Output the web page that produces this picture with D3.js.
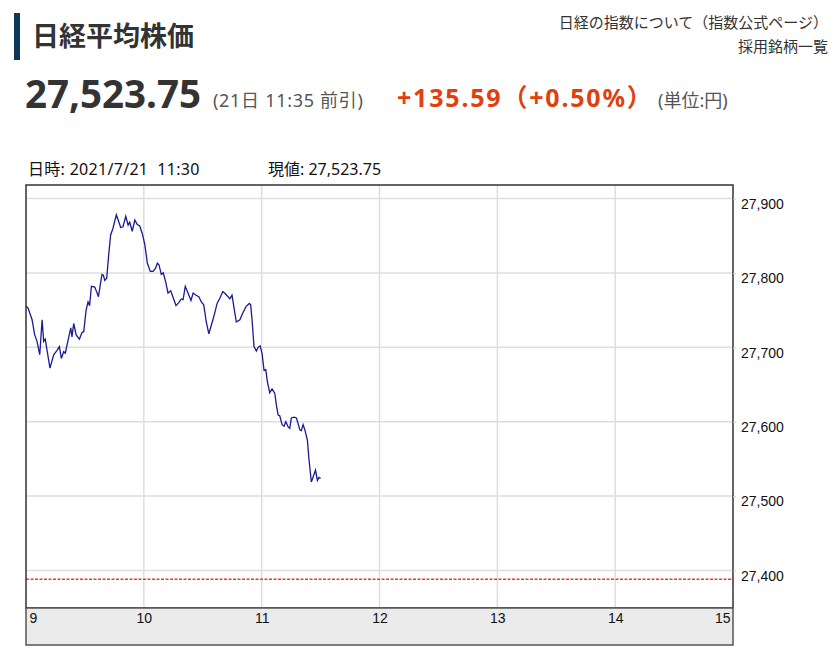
<!DOCTYPE html>
<html>
<head>
<meta charset="utf-8">
<script src="https://cdn.jsdelivr.net/npm/d3@7"></script>
<style>
  html, body { margin: 0; padding: 0; background: #fff; }
  svg { display: block; }
</style>
</head>
<body>
<svg id="chart" width="833" height="658"></svg>
<script>
// ---- data (minutes after 9:00, index value) ----
const minutes = [0,1,3.1,4.4,5.6,7,8.2,9,9.8,12.2,14.1,15.8,17,18,19.2,20,21.8,22.8,23.4,24.3,25.5,27.2,28.5,29.4,30.6,31.6,32.4,33.3,35,36.2,36.9,37.8,38.7,39.4,40.1,41.1,42.1,43.1,44.3,46,47.2,48.2,49.4,50.8,52,52.8,54.1,55.4,56.7,57.9,59.2,60.5,61.8,63.3,64.7,65.9,66.9,67.7,68.9,69.9,71.2,72.3,73.7,75.6,76.4,77.8,79.1,80,81.1,82.5,84,85.1,86.6,88,89.3,90.5,91.8,93.1,94.4,96.1,97.3,98.7,100.2,101.5,102.9,103.8,104.9,106.1,107.1,108.9,110.4,112.1,113.7,114.4,115.1,116.1,117.3,118.2,119.2,120.2,121.2,122.1,122.9,124.1,125.3,126.7,127.5,128.4,129.2,130.4,131.4,132.3,133.5,134.3,135.1,136.5,137.7,138.5,139.4,140.2,141.1,142,143.3,144.1,145.3,146.5,147.4,148.4,149.2,150];
const values = [27755,27753,27737,27717,27708,27690,27737,27708,27711,27672,27690,27696,27701,27685,27694,27692,27714,27726,27714,27732,27717,27711,27720,27721,27750,27761,27756,27782,27781,27773,27768,27784,27798,27797,27790,27793,27824,27851,27860,27878,27869,27861,27862,27876,27864,27868,27856,27871,27865,27863,27853,27838,27813,27802,27802,27806,27813,27811,27798,27800,27787,27773,27776,27762,27756,27760,27765,27764,27782,27773,27763,27773,27770,27768,27761,27757,27734,27718,27730,27746,27759,27766,27775,27772,27768,27765,27770,27750,27734,27737,27746,27755,27759,27757,27737,27701,27695,27700,27702,27692,27669,27670,27654,27639,27644,27638,27622,27609,27608,27596,27594,27600,27593,27591,27605,27606,27605,27598,27589,27588,27596,27589,27575,27549,27519,27528,27535,27521,27525,27523.75];
const prevClose = 27388.16;
const yTicks = [27400, 27500, 27600, 27700, 27800, 27900];
const xTicks = [9, 10, 11, 12, 13, 14, 15];

const svg = d3.select("#chart");
const JP = "'Noto Sans CJK JP', sans-serif";
const NS = "'Noto Sans', 'Noto Sans CJK JP', sans-serif";

// ---- header ----
svg.append("rect").attr("x", 14).attr("y", 13).attr("width", 6).attr("height", 47).attr("fill", "#0f3858");
svg.append("text").attr("x", 32).attr("y", 46).attr("font-family", JP).attr("font-weight", 700)
  .attr("font-size", 27).attr("fill", "#333").text("日経平均株価");

svg.append("text").attr("x", 828).attr("y", 28).attr("text-anchor", "end").attr("font-family", JP)
  .attr("font-size", 15).attr("fill", "#333").text("日経の指数について（指数公式ページ）");
svg.append("text").attr("x", 828).attr("y", 52).attr("text-anchor", "end").attr("font-family", JP)
  .attr("font-size", 15).attr("fill", "#333").text("採用銘柄一覧");

svg.append("text").attr("x", 25).attr("y", 108).attr("font-family", NS).attr("font-weight", 700)
  .attr("font-size", 38.5).attr("fill", "#333").text("27,523.75");
svg.append("text").attr("x", 213).attr("y", 107).attr("font-family", NS)
  .attr("font-size", 18).attr("letter-spacing", 0.7).attr("fill", "#555").text("(21日 11:35 前引)");
svg.append("text").attr("x", 397).attr("y", 107).attr("font-family", NS).attr("font-weight", 700)
  .attr("font-size", 25).attr("letter-spacing", 1.8).attr("fill", "#e0400e").text("+135.59（+0.50%）");
svg.append("text").attr("x", 658).attr("y", 107).attr("font-family", NS)
  .attr("font-size", 18).attr("fill", "#555").text("(単位:円)");

svg.append("text").attr("x", 28).attr("y", 175).attr("font-family", NS)
  .attr("font-size", 16).attr("letter-spacing", 0.3).attr("fill", "#111").attr("xml:space", "preserve").text("日時: 2021/7/21  11:30");
svg.append("text").attr("x", 268).attr("y", 175).attr("font-family", NS)
  .attr("font-size", 16).attr("fill", "#111").text("現値: 27,523.75");

// ---- chart ----
const L = 26, R = 733, T = 185, B = 608, AX = 645;
const x = d3.scaleLinear().domain([9, 15]).range([L, R]);
const y = d3.scaleLinear().domain([27400, 27900]).range([570.5, 198.5]);

const g = svg.append("g");
// grid
g.selectAll(".hg").data(yTicks).join("line")
  .attr("x1", L).attr("x2", R).attr("y1", d => y(d)).attr("y2", d => y(d))
  .attr("stroke", "#dedede").attr("stroke-width", 1.5);
g.selectAll(".vg").data(xTicks.slice(1, -1)).join("line")
  .attr("x1", d => x(d)).attr("x2", d => x(d)).attr("y1", T).attr("y2", B)
  .attr("stroke", "#dedede").attr("stroke-width", 1.5);

// previous close
g.append("line").attr("x1", L).attr("x2", R).attr("y1", y(prevClose)).attr("y2", y(prevClose))
  .attr("stroke", "#ff3333").attr("stroke-width", 1.5).attr("stroke-dasharray", "3,1.5");

// series
const pts = minutes.map((m, i) => [9 + m / 60, values[i]]);
g.append("path").datum(pts)
  .attr("d", d3.line().x(d => x(d[0])).y(d => y(d[1])))
  .attr("fill", "none").attr("stroke", "#1a1a96").attr("stroke-width", 1.3);

// frame
g.append("rect").attr("x", L).attr("y", T).attr("width", R - L).attr("height", B - T)
  .attr("fill", "none").attr("stroke", "#333").attr("stroke-width", 1.5);

// y axis (right)
const yAxis = d3.axisRight(y).tickValues(yTicks).tickFormat(d3.format(",")).tickSize(3).tickPadding(5);
const ya = svg.append("g").attr("transform", `translate(${R},0)`).call(yAxis);
ya.select(".domain").remove();
ya.selectAll(".tick line").attr("stroke", "#c8d0dc");
ya.selectAll(".tick text").attr("font-family", "'Liberation Sans', Arial, sans-serif")
  .attr("font-size", 14).attr("fill", "#111").attr("dy", "0.7em");

// x axis band
svg.append("rect").attr("x", L).attr("y", B).attr("width", R - L).attr("height", AX - B)
  .attr("fill", "#ebebeb").attr("stroke", "#555").attr("stroke-width", 1.5);
const xAxis = d3.axisBottom(x).tickValues(xTicks).tickFormat(d3.format("d")).tickSize(0).tickPadding(5);
const xa = svg.append("g").attr("transform", `translate(0,${B})`).call(xAxis);
xa.select(".domain").remove();
xa.selectAll(".tick text").attr("font-family", "'Liberation Sans', Arial, sans-serif")
  .attr("font-size", 14).attr("fill", "#111")
  .attr("text-anchor", (d, i) => i === 0 ? "start" : (i === xTicks.length - 1 ? "end" : "middle"))
  .attr("dx", (d, i) => i === 0 ? 3 : (i === xTicks.length - 1 ? -3 : 0));
</script>
</body>
</html>
